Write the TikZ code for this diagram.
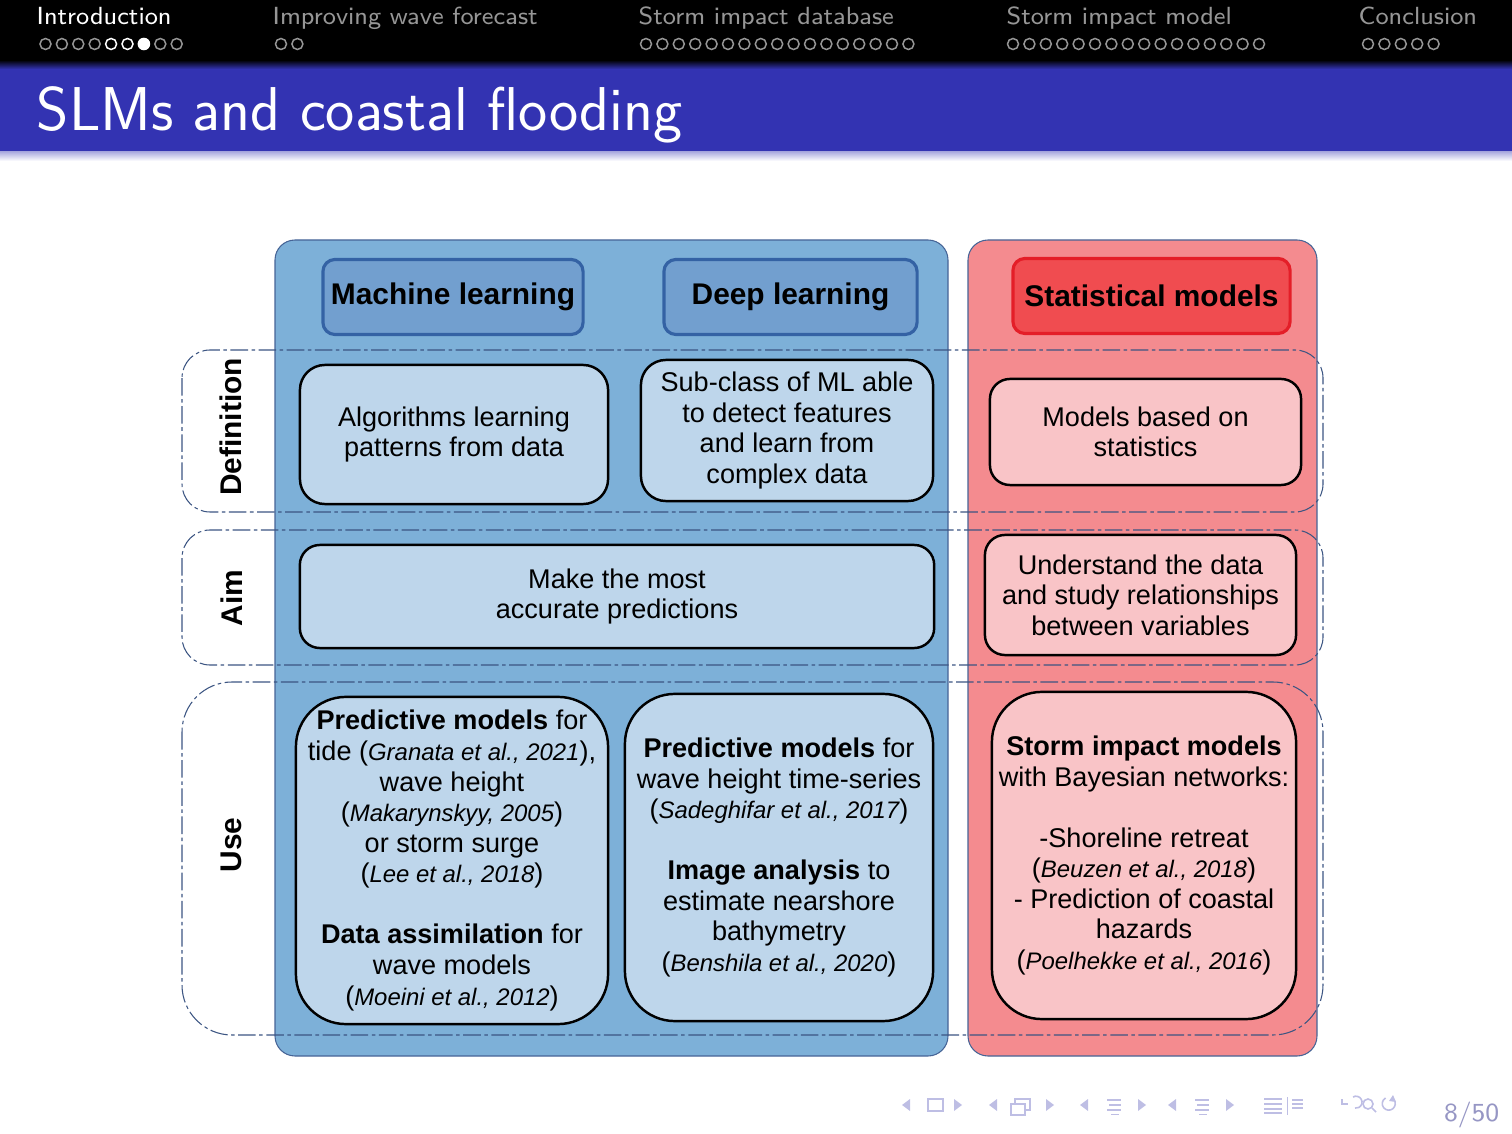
\documentclass[tikz,border=0pt]{standalone}
\usepackage{fontspec}
\setmainfont{Liberation Sans}
\usetikzlibrary{positioning}

\definecolor{titleblue}{RGB}{51,51,178}
\definecolor{secgray}{RGB}{150,150,150}
\definecolor{navsymcol}{RGB}{190,190,228}
\definecolor{pagecol}{RGB}{150,150,196}
\definecolor{mlcolfill}{RGB}{125,176,216}
\definecolor{colbord}{RGB}{70,100,150}
\definecolor{mlheadfill}{RGB}{114,159,207}
\definecolor{mlheadbord}{RGB}{52,98,164}
\definecolor{mlboxfill}{RGB}{190,214,235}
\definecolor{stcolfill}{RGB}{244,139,143}
\definecolor{stheadfill}{RGB}{240,76,80}
\definecolor{stheadbord}{RGB}{228,30,40}
\definecolor{stboxfill}{RGB}{249,196,199}
\definecolor{bandcol}{RGB}{60,85,130}

\newcommand{\refit}[1]{({\fontsize{6.8}{8.7}\selectfont\itshape #1})}

\tikzset{
  sectitle/.style={anchor=base west, inner sep=0pt, text=secgray, font=\fontsize{7.05}{9}\selectfont\sffamily},
  navdot/.style={draw=secgray, line width=0.15mm},
  navline/.style={draw=navsymcol, line width=0.16mm},
  colbox/.style={draw=colbord, line width=0.3pt, rounded corners=2mm},
  bandline/.style={draw=bandcol, line width=0.3pt, dash pattern=on 5pt off 1pt on 1pt off 1pt},
  bandlabel/.style={rotate=90, inner sep=0pt, font=\fontsize{8.5}{10}\selectfont\bfseries},
  headbox/.style={rounded corners=1.2mm, line width=0.9pt, inner sep=0pt, font=\fontsize{8.5}{10}\selectfont\bfseries},
  infobox/.style={draw=black, line width=0.7pt, inner sep=0pt, align=center, font=\fontsize{7.7}{8.7}\selectfont},
}

\begin{document}
\begin{tikzpicture}[x=0.01cm, y=-0.01cm]
  \useasboundingbox (0,0) rectangle (1512,1134);

  % Headline and frame title
  \fill[black] (0,0) rectangle (1512,64);
  \shade[top color=black, bottom color=titleblue] (0,60) rectangle (1512,69);
  \fill[titleblue] (0,69) rectangle (1512,152);
  \shade[top color=titleblue!40, bottom color=white] (0,152) rectangle (1512,161);

  \node[sectitle, text=white] (intro) at (36,25) {Introduction};
  \node[sectitle] (waves) at (272,25) {Improving wave forecast};
  \node[sectitle] (database) at (638,25) {Storm impact database};
  \node[sectitle] (model) at (1006,25) {Storm impact model};
  \node[sectitle] (concl) at (1358,25) {Conclusion};

  \foreach \i in {0,1,2,3,7,8} \draw[navdot] (45.5+16.4*\i,44) circle[radius=0.55mm];
  \foreach \i in {4,5} \draw[navdot, draw=white] (45.5+16.4*\i,44) circle[radius=0.55mm];
  \fill[white] (45.5+16.4*6,44) circle[radius=0.63mm];
  \foreach \i in {0,1} \draw[navdot] (281+16.4*\i,44) circle[radius=0.55mm];
  \foreach \i in {0,...,16} \draw[navdot] (646+16.4*\i,44) circle[radius=0.55mm];
  \foreach \i in {0,...,15} \draw[navdot] (1013+16.4*\i,44) circle[radius=0.55mm];
  \foreach \i in {0,...,4} \draw[navdot] (1368+16.4*\i,44) circle[radius=0.55mm];

  \node[anchor=base west, inner sep=0pt, text=white, font=\fontsize{17.6}{21}\selectfont\sffamily] (title) at (36,131) {SLMs and coastal flooding};

  % Columns
  \draw[colbox, fill=mlcolfill] (275,240) rectangle (948,1056);
  \draw[colbox, fill=stcolfill] (968,240) rectangle (1317,1056);

  % Rows
  \draw[bandline, rounded corners=2.8mm] (182,350) rectangle (1323,512);
  \draw[bandline, rounded corners=2.8mm] (182,530) rectangle (1323,665);
  \draw[bandline, rounded corners=5mm] (182,682) rectangle (1323,1035);

  \node[bandlabel] (deflabel) at (231,427) {Definition};
  \node[bandlabel] (aimlabel) at (232,598) {Aim};
  \node[bandlabel] (uselabel) at (231,845) {Use};

  % Column headers
  \node[headbox, fill=mlheadfill, draw=mlheadbord, minimum width=26mm, minimum height=7.5mm] (mlhead) at (453,297) {Machine learning};
  \node[headbox, fill=mlheadfill, draw=mlheadbord, minimum width=25.3mm, minimum height=7.5mm] (dlhead) at (790.5,297) {Deep learning};
  \node[headbox, fill=stheadfill, draw=stheadbord, minimum width=27.7mm, minimum height=7.5mm] (sthead) at (1151.5,296) {Statistical models};

  % Definition
  \node[infobox, fill=mlboxfill, rounded corners=2.5mm, minimum width=30.8mm, minimum height=13.9mm] (mldef) at (454,434.5)
    {Algorithms learning\\ patterns from data};
  \node[infobox, fill=mlboxfill, rounded corners=2.5mm, minimum width=29.2mm, minimum height=14.1mm] (dldef) at (787,430.5)
    {Sub-class of ML able\\ to detect features\\ and learn from\\ complex data};
  \node[infobox, fill=stboxfill, rounded corners=2mm, minimum width=31.1mm, minimum height=10.6mm] (stdef) at (1145.5,432)
    {Models based on\\ statistics};

  % Aim
  \node[infobox, fill=mlboxfill, rounded corners=2mm, minimum width=63.4mm, minimum height=10.3mm] (mlaim) at (617,596.5)
    {Make the most\\ accurate predictions};
  \node[infobox, fill=stboxfill, rounded corners=2mm, minimum width=31.1mm, minimum height=12mm] (staim) at (1140.5,595)
    {Understand the data\\ and study relationships\\ between variables};

  % Use
  \node[infobox, fill=mlboxfill, rounded corners=5mm, minimum width=31.2mm, minimum height=32.7mm] (mluse) at (452,860.5)
    {\textbf{Predictive models} for\\ tide \refit{Granata et al., 2021},\\ wave height\\ \refit{Makarynskyy, 2005}\\ or storm surge\\ \refit{Lee et al., 2018}\\[8.7pt]
     \textbf{Data assimilation} for\\ wave models\\ \refit{Moeini et al., 2012}};
  \node[infobox, fill=mlboxfill, rounded corners=5mm, minimum width=30.8mm, minimum height=32.7mm] (dluse) at (779,857.5)
    {\textbf{Predictive models} for\\ wave height time-series\\ \refit{Sadeghifar et al., 2017}\\[8.7pt]
     \textbf{Image analysis} to\\ estimate nearshore\\ bathymetry\\ \refit{Benshila et al., 2020}};
  \node[infobox, fill=stboxfill, rounded corners=5mm, minimum width=30.4mm, minimum height=32.7mm] (stuse) at (1144,855.5)
    {\textbf{Storm impact models}\\ with Bayesian networks:\\[8.7pt]
     -Shoreline retreat\\ \refit{Beuzen et al., 2018}\\ - Prediction of coastal\\ hazards\\ \refit{Poelhekke et al., 2016}};

  % Navigation symbols
  \foreach \x in {906,993,1084,1172} \fill[navsymcol] (\x+4,1099) -- (\x-4,1105) -- (\x+4,1111) -- cycle;
  \foreach \x in {958,1050,1142,1230} \fill[navsymcol] (\x-4,1099) -- (\x+4,1105) -- (\x-4,1111) -- cycle;
  \draw[navline] (928,1099) rectangle (943,1111);
  \draw[navline] (1011,1104) rectangle (1025,1115);
  \draw[navline] (1015,1104) -- (1015,1099) -- (1030,1099) -- (1030,1110) -- (1025,1110);
  \foreach \x in {1107,1195} {
    \draw[navline] (\x,1100) -- (\x+14,1100);
    \draw[navline] (\x+2,1105) -- (\x+14,1105);
    \draw[navline] (\x,1110) -- (\x+14,1110);
    \draw[navline, line width=0.1mm] (\x+4,1114) -- (\x+12,1114);
  }
  \foreach \y in {1099,1104,1109,1113} \draw[navline] (1264,\y) -- (1282,\y);
  \draw[navline, line width=0.1mm] (1287,1097) -- (1287,1115);
  \foreach \y in {1100,1104,1108} \draw[navline] (1292,\y) -- (1303,\y);
  \draw[navline] (1342,1099) -- (1342,1104) -- (1348,1104);
  \draw[navline] (1353,1097) arc[start angle=120, end angle=-100, radius=0.6mm];
  \draw[navline] (1368,1104) circle[radius=0.5mm];
  \draw[navline] (1372,1108) -- (1376,1112);
  \draw[navline] (1392,1098) arc[start angle=60, end angle=-240, radius=0.65mm];
  \fill[navsymcol] (1393,1095) -- (1396,1102) -- (1389,1101) -- cycle;

  \node[anchor=base east, inner sep=0pt, text=pagecol, font=\fontsize{7.4}{9}\selectfont\sffamily] (pagenum) at (1500,1121) {8/50};

\end{tikzpicture}
\end{document}
